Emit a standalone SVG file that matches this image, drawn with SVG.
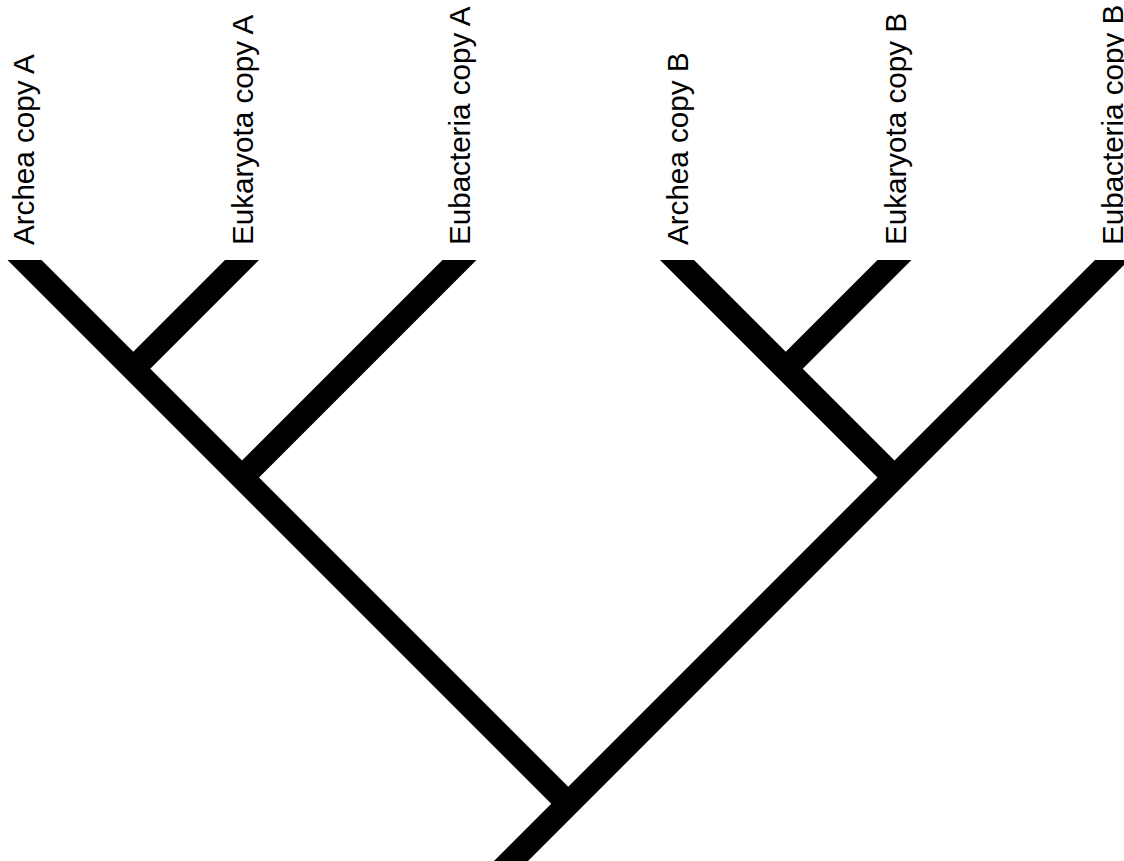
<svg xmlns="http://www.w3.org/2000/svg" width="1124" height="861" viewBox="0 0 1124 861">
  <style>
    .lbl { font-family: "Liberation Sans", Arial, sans-serif; font-size: 29.6px; fill: #000; }
    .br { stroke: #000; stroke-width: 24; stroke-linecap: butt; fill: none; }
  </style>
  <defs>
    <clipPath id="clipTop">
      <rect x="0" y="260" width="1124" height="601"/>
    </clipPath>
  </defs>
  <rect x="0" y="0" width="1124" height="861" fill="#fff"/>
  <g id="connectors" clip-path="url(#clipTop)">
    <line class="br" x1="4.5" y1="240" x2="568.25" y2="803.75"/>
    <line class="br" x1="262" y1="240" x2="133.25" y2="368.75"/>
    <line class="br" x1="479.5" y1="240" x2="242" y2="477.5"/>
    <line class="br" x1="657" y1="240" x2="894.5" y2="477.5"/>
    <line class="br" x1="914.5" y1="240" x2="785.75" y2="368.75"/>
    <line class="br" x1="1132" y1="240" x2="472" y2="900"/>
  </g>
  <g id="archea-a"><text class="lbl" transform="translate(34,245) rotate(-90)">Archea copy A</text></g>
  <g id="eukaryota-a"><text class="lbl" transform="translate(253,245) rotate(-90)">Eukaryota copy A</text></g>
  <g id="eubacteria-a"><text class="lbl" transform="translate(470,245) rotate(-90)">Eubacteria copy A</text></g>
  <g id="archea-b"><text class="lbl" transform="translate(688,245) rotate(-90)">Archea copy B</text></g>
  <g id="eukaryota-b"><text class="lbl" transform="translate(906,245) rotate(-90)">Eukaryota copy B</text></g>
  <g id="eubacteria-b"><text class="lbl" transform="translate(1123,245) rotate(-90)">Eubacteria copy B</text></g>
</svg>
